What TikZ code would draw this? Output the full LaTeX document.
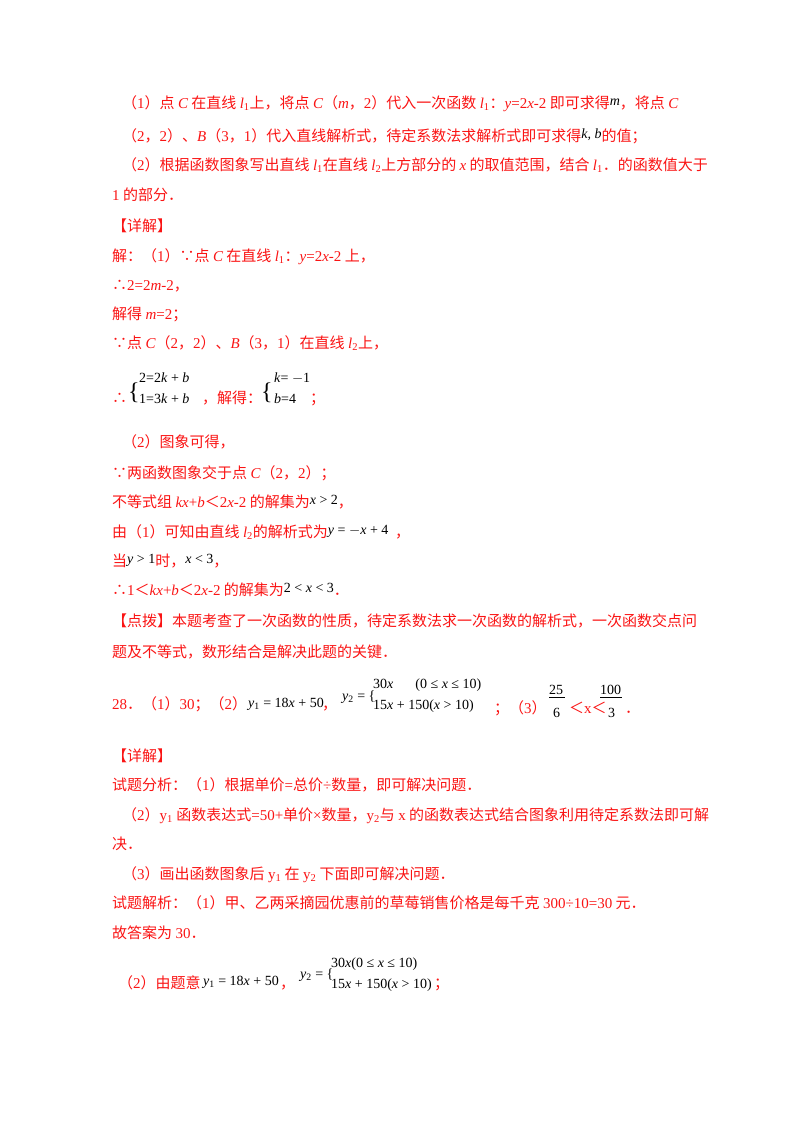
\documentclass[tikz,border=0pt]{standalone}
\usepackage{fontspec}
\setmainfont{Noto Sans CJK SC}
\newfontfamily\tr{Liberation Serif}
\definecolor{rd}{RGB}{250,20,20}
\newcommand{\tx}[4]{\node[txt] (#1) at (#2,#3) {#4};}
\newcommand{\ti}[1]{{\tr\itshape #1}}
\newcommand{\ro}[1]{{\tr #1}}
\newcommand{\bk}[1]{\raisebox{3pt}{\color{black}\tr\fontsize{14}{15}\selectfont #1}}
\begin{document}
\begin{tikzpicture}[x=1pt,y=-1pt,txt/.style={anchor=base west,inner sep=0pt,font=\fontsize{15}{16}\selectfont,text=rd},
mth/.style={anchor=base west,inner sep=0pt,font=\tr\fontsize{14}{15}\selectfont,text=black}]
\useasboundingbox (0,0) rectangle (800,1132);
\tx{a1}{122}{108}{（\ro{1}）点 \ti{C} 在直线 \ti{l}\ro{\textsubscript{1}}上，将点 \ti{C}（\ti{m}，\ro{2}）代入一次函数 \ti{l}\ro{\textsubscript{1}}：\ti{y}\ro{=2}\ti{x}\ro{-2} 即可求得\bk{\itshape m}，将点 \ti{C}}
\tx{a2}{122}{141}{（\ro{2}，\ro{2}）、\ti{B}（\ro{3}，\ro{1}）代入直线解析式，待定系数法求解析式即可求得\bk{\itshape k, b}的值；}
\tx{a3}{122}{170}{（\ro{2}）根据函数图象写出直线 \ti{l}\ro{\textsubscript{1}}在直线 \ti{l}\ro{\textsubscript{2}}上方部分的 \ti{x} 的取值范围，结合 \ti{l}\ro{\textsubscript{1}}．的函数值大于}
\tx{a4}{112}{200}{\ro{1} 的部分．}
\tx{a5}{112}{231}{【详解】}
\tx{a6}{112}{261}{解：（\ro{1}）∵点 \ti{C} 在直线 \ti{l}\ro{\textsubscript{1}}：\ti{y}\ro{=2}\ti{x}\ro{-2} 上，}
\tx{a7}{112}{290}{∴\ro{2=2}\ti{m}\ro{-2}，}
\tx{a8}{112}{319}{解得 \ti{m}\ro{=2}；}
\tx{a9}{112}{348}{∵点 \ti{C}（\ro{2}，\ro{2}）、\ti{B}（\ro{3}，\ro{1}）在直线 \ti{l}\ro{\textsubscript{2}}上，}
\tx{a10}{112}{403}{∴}
\node[mth,font=\tr\fontsize{24}{24}\selectfont] (b1) at (128,399) {\{};
\node[mth] (s1) at (139,382) {2=2\textit{k} + \textit{b}};
\node[mth] (s2) at (139,403) {1=3\textit{k} + \textit{b}};
\tx{a10b}{202}{403}{，解得：}
\node[mth,font=\tr\fontsize{24}{24}\selectfont] (b2) at (261,399) {\{};
\node[mth] (s3) at (274,382) {\textit{k}= $-$1};
\node[mth] (s4) at (274,403) {\textit{b}=4};
\tx{a11}{310}{403}{；}
\tx{a12}{122}{447}{（\ro{2}）图象可得，}
\tx{a13}{112}{478}{∵两函数图象交于点 \ti{C}（\ro{2}，\ro{2}）；}
\tx{a14}{112}{507}{不等式组 \ti{kx}\ro{+}\ti{b}＜\ro{2}\ti{x}\ro{-2} 的解集为\bk{\itshape x\upshape\ \textgreater\ 2}，}
\tx{a15}{112}{537}{由（\ro{1}）可知由直线 \ti{l}\ro{\textsubscript{2}}的解析式为\bk{\itshape y\upshape\ = $-$\itshape x\upshape\ + 4}\ \ ，}
\tx{a16}{112}{566}{当\bk{\itshape y\upshape\ \textgreater\ 1}时，\bk{\itshape x\upshape\ \textless\ 3}，}
\tx{a17}{112}{595}{∴\ro{1}＜\ti{kx}\ro{+}\ti{b}＜\ro{2}\ti{x}\ro{-2} 的解集为\bk{2 \textless\ \itshape x\upshape\ \textless\ 3}．}
\tx{a18}{112}{626}{【点拨】本题考查了一次函数的性质，待定系数法求一次函数的解析式，一次函数交点问}
\tx{a19}{112}{657}{题及不等式，数形结合是解决此题的关键．}
\tx{a20}{112}{709}{\ro{28}．（\ro{1}）\ro{30}；（\ro{2}）}
\node[mth] (m8) at (248,707) {\textit{y}\textsubscript{1} = 18\textit{x} + 50};
\tx{a21}{322}{709}{，}
\node[mth] (m9) at (342,700) {\textit{y}\textsubscript{2} = \{};
\node[mth] (m10) at (373,688) {30\textit{x}\hspace{22pt}(0 ≤ \textit{x} ≤ 10)};
\node[mth] (m11) at (373,709) {15\textit{x} + 150(\textit{x} \textgreater{} 10)};
\tx{a22}{494}{713}{；（\ro{3}）}
\node[mth] (f1) at (549,694) {25};
\node[mth] (f2) at (553,717) {6};
\draw[black,line width=0.5pt] (f1.south west)++(0,3) -- ++(16,0);
\tx{a23}{569}{713}{＜\ro{x}＜}
\node[mth] (f3) at (600,694) {100};
\node[mth] (f4) at (608,717) {3};
\draw[black,line width=0.5pt] (f3.south west)++(0,3) -- ++(22,0);
\tx{a24}{625}{713}{．}
\tx{a25}{112}{761}{【详解】}
\tx{a26}{112}{790}{试题分析：（\ro{1}）根据单价\ro{=}总价\ro{÷}数量，即可解决问题．}
\tx{a27}{122}{820}{（\ro{2}）\ro{y\textsubscript{1}} 函数表达式\ro{=50+}单价\ro{×}数量，\ro{y\textsubscript{2}}与 \ro{x} 的函数表达式结合图象利用待定系数法即可解}
\tx{a28}{112}{849}{决．}
\tx{a29}{122}{879}{（\ro{3}）画出函数图象后 \ro{y\textsubscript{1}} 在 \ro{y\textsubscript{2}} 下面即可解决问题．}
\tx{a30}{112}{908}{试题解析：（\ro{1}）甲、乙两采摘园优惠前的草莓销售价格是每千克 \ro{300÷10=30} 元．}
\tx{a31}{112}{938}{故答案为 \ro{30}．}
\tx{a32}{118}{988}{（\ro{2}）由题意}
\node[mth] (m12) at (203,985) {\textit{y}\textsubscript{1} = 18\textit{x} + 50};
\tx{a32b}{280}{988}{，}
\node[mth] (m13) at (300,978) {\textit{y}\textsubscript{2} = \{};
\node[mth] (m14) at (331,967) {30\textit{x}(0 ≤ \textit{x} ≤ 10)};
\node[mth] (m15) at (331,988) {15\textit{x} + 150(\textit{x} \textgreater{} 10)};
\tx{a33}{434}{988}{；}
\end{tikzpicture}
\end{document}
